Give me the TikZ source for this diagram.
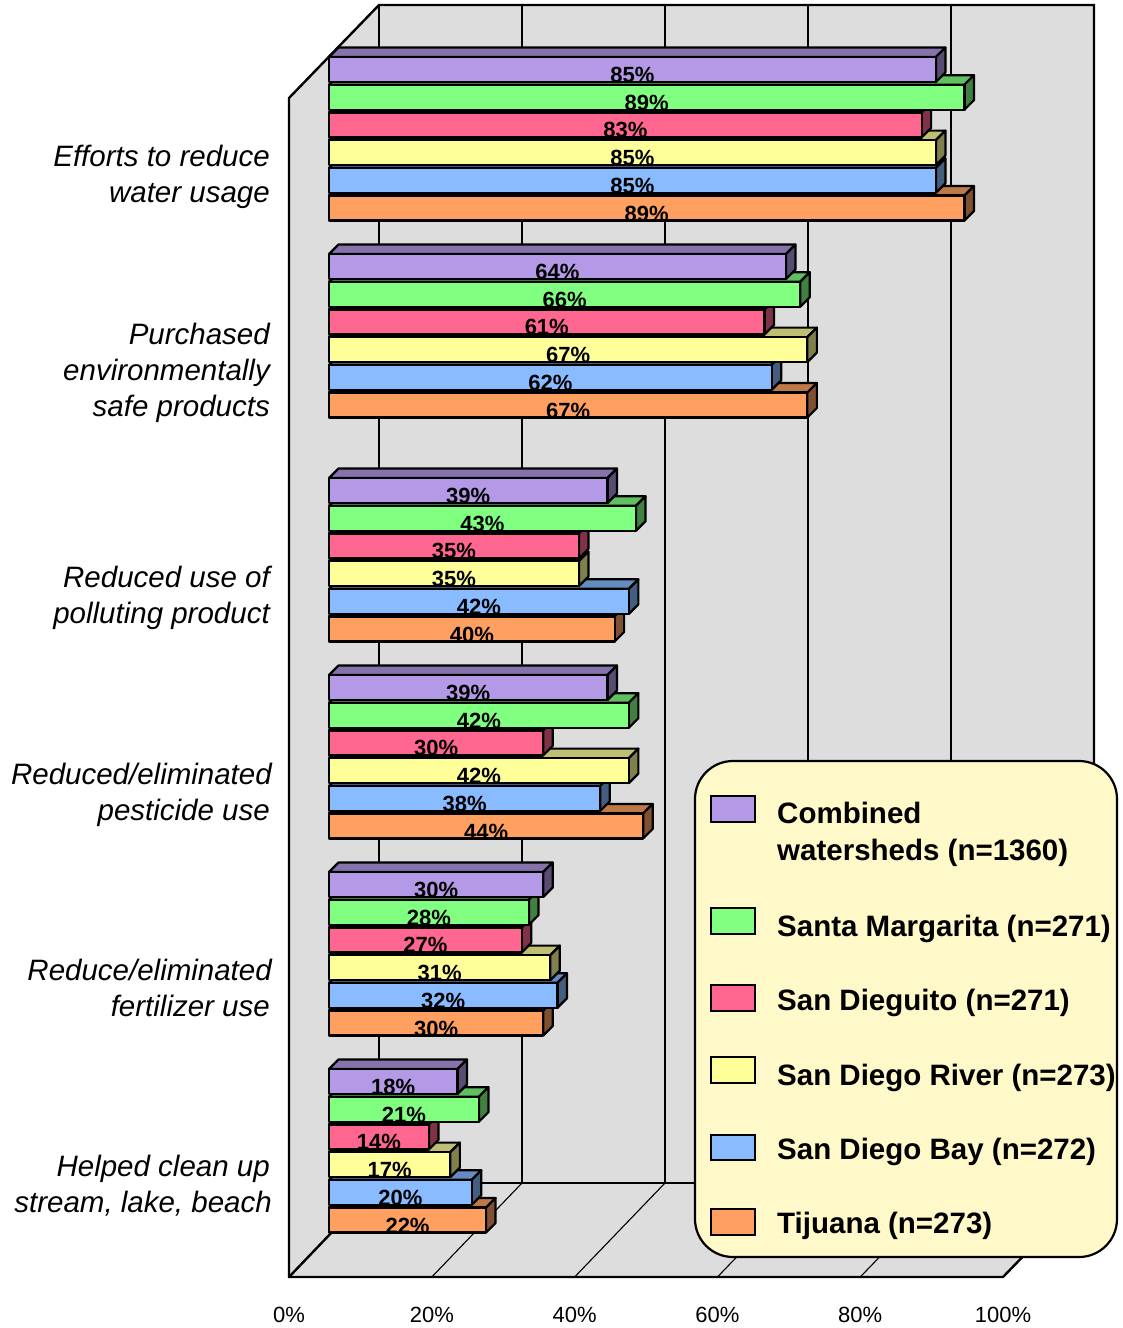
\documentclass[tikz,border=0pt]{standalone}
\usepackage{fontspec}
\setmainfont{Liberation Sans}
\definecolor{cPur}{HTML}{B399E6}
\definecolor{cGrn}{HTML}{80FF80}
\definecolor{cPnk}{HTML}{FF6690}
\definecolor{cYel}{HTML}{FFFF99}
\definecolor{cBlu}{HTML}{88BBFF}
\definecolor{cOrn}{HTML}{FFA060}
\definecolor{wall}{HTML}{DDDDDD}
\definecolor{legbg}{HTML}{FFF8C8}
\begin{document}
\begin{tikzpicture}[x=1pt,y=-1pt,
  edge/.style={line width=2.4pt},
  gridln/.style={line width=1.1pt},
  barline/.style={draw=black,line width=2.2pt,line join=round},
  pct/.style={font=\fontsize{22}{24}\selectfont\bfseries, inner sep=0pt, anchor=base},
  cat/.style={font=\fontsize{29.5}{36}\selectfont\itshape, inner sep=0pt, anchor=base east},
  leg/.style={font=\fontsize{29.5}{36}\selectfont\bfseries, inner sep=0pt, anchor=base west},
  axl/.style={font=\fontsize{22}{24}\selectfont, inner sep=0pt, anchor=base},
  swatch/.style={draw=black,line width=2pt}]
\useasboundingbox (0,0) rectangle (1122,1328);
% walls and floor
\fill[wall] (289,98) -- (379,5) -- (1094,5) -- (1094,1183) -- (1003,1277) -- (289,1277) -- cycle;
\foreach \k in {1,...,4}{
  \draw[gridln] (379+143*\k,5) -- (379+143*\k,1183);
  \draw[gridln] (289+142.8*\k,1277) -- (379+143*\k,1183);
}
\draw[edge] (379,5) -- (379,1183) -- (1094,1183);
\draw[edge] (379,1183) -- (289,1277);
\draw[edge] (289,1277) -- (289,98) -- (379,5) -- (1094,5) -- (1094,1183) -- (1003,1277) -- cycle;
% bars
\foreach \g/\gt/\vals in {1/57/{85,89,83,85,85,89},2/254/{64,66,61,67,62,67},3/478/{39,43,35,35,42,40},4/675/{39,42,30,42,38,44},5/872/{30,28,27,31,32,30},6/1069/{18,21,14,17,20,22}}{
  \foreach \i/\c in {5/cOrn,4/cBlu,3/cYel,2/cPnk,1/cGrn,0/cPur}{
    \pgfmathsetmacro\v{{\vals}[\i]}
    \pgfmathsetmacro\xr{329+\v*7.14}
    \pgfmathsetmacro\yt{\gt+\i*27.7}
    \pgfmathsetmacro\yb{\yt+25}
    \filldraw[barline,fill=\c!75!black] (329,\yt) -- (338.5,\yt-9.5) -- (\xr+9.5,\yt-9.5) -- (\xr,\yt) -- cycle;
    \filldraw[barline,fill=\c!50!black] (\xr,\yt) -- (\xr+9.5,\yt-9.5) -- (\xr+9.5,\yb-9.5) -- (\xr,\yb) -- cycle;
    \filldraw[barline,fill=\c] (329,\yt) rectangle (\xr,\yb);
  }
  \foreach \i in {0,...,5}{
    \pgfmathtruncatemacro\vi{{\vals}[\i]}
    \pgfmathsetmacro\xr{329+\vi*7.14}
    \pgfmathsetmacro\yb{\gt+\i*27.7+25.5}
    \node[pct] (p\g-\i) at ({(329+\xr)/2},\yb) {\vi\%};
  }
}
% category labels
\node[cat] (c1a) at (270,166) {Efforts to reduce};
\node[cat] (c1b) at (270,202) {water usage};
\node[cat] (c2a) at (270,344) {Purchased};
\node[cat] (c2b) at (270,380) {environmentally};
\node[cat] (c2c) at (270,416) {safe products};
\node[cat] (c3a) at (270,587) {Reduced use of};
\node[cat] (c3b) at (270,623) {polluting product};
\node[cat] (c4a) at (272,784) {Reduced/eliminated};
\node[cat] (c4b) at (270,820) {pesticide use};
\node[cat] (c5a) at (272,980) {Reduce/eliminated};
\node[cat] (c5b) at (270,1016) {fertilizer use};
\node[cat] (c6a) at (270,1176) {Helped clean up};
\node[cat] (c6b) at (272,1212) {stream, lake, beach};
% axis labels
\foreach \k/\t in {0/0,1/20,2/40,3/60,4/80,5/100}{
  \node[axl] (ax\k) at (289+142.8*\k,1322) {\t\%};
}
% legend
\draw[line width=2.2pt,fill=legbg,rounded corners=38pt] (695,761) rectangle (1117,1257);
\draw[swatch,fill=cPur] (711,796) rectangle (755,822);
\draw[swatch,fill=cGrn] (711,908) rectangle (755,934);
\draw[swatch,fill=cPnk] (711,985) rectangle (755,1011);
\draw[swatch,fill=cYel] (711,1057) rectangle (755,1083);
\draw[swatch,fill=cBlu] (711,1135) rectangle (755,1160);
\draw[swatch,fill=cOrn] (711,1209) rectangle (755,1235);
\node[leg] (l1a) at (777,823) {Combined};
\node[leg] (l1b) at (777,860) {watersheds (n=1360)};
\node[leg] (l2) at (777,936) {Santa Margarita (n=271)};
\node[leg] (l3) at (777,1010) {San Dieguito (n=271)};
\node[leg] (l4) at (777,1085) {San Diego River (n=273)};
\node[leg] (l5) at (777,1159) {San Diego Bay (n=272)};
\node[leg] (l6) at (777,1233) {Tijuana (n=273)};
\end{tikzpicture}
\end{document}
